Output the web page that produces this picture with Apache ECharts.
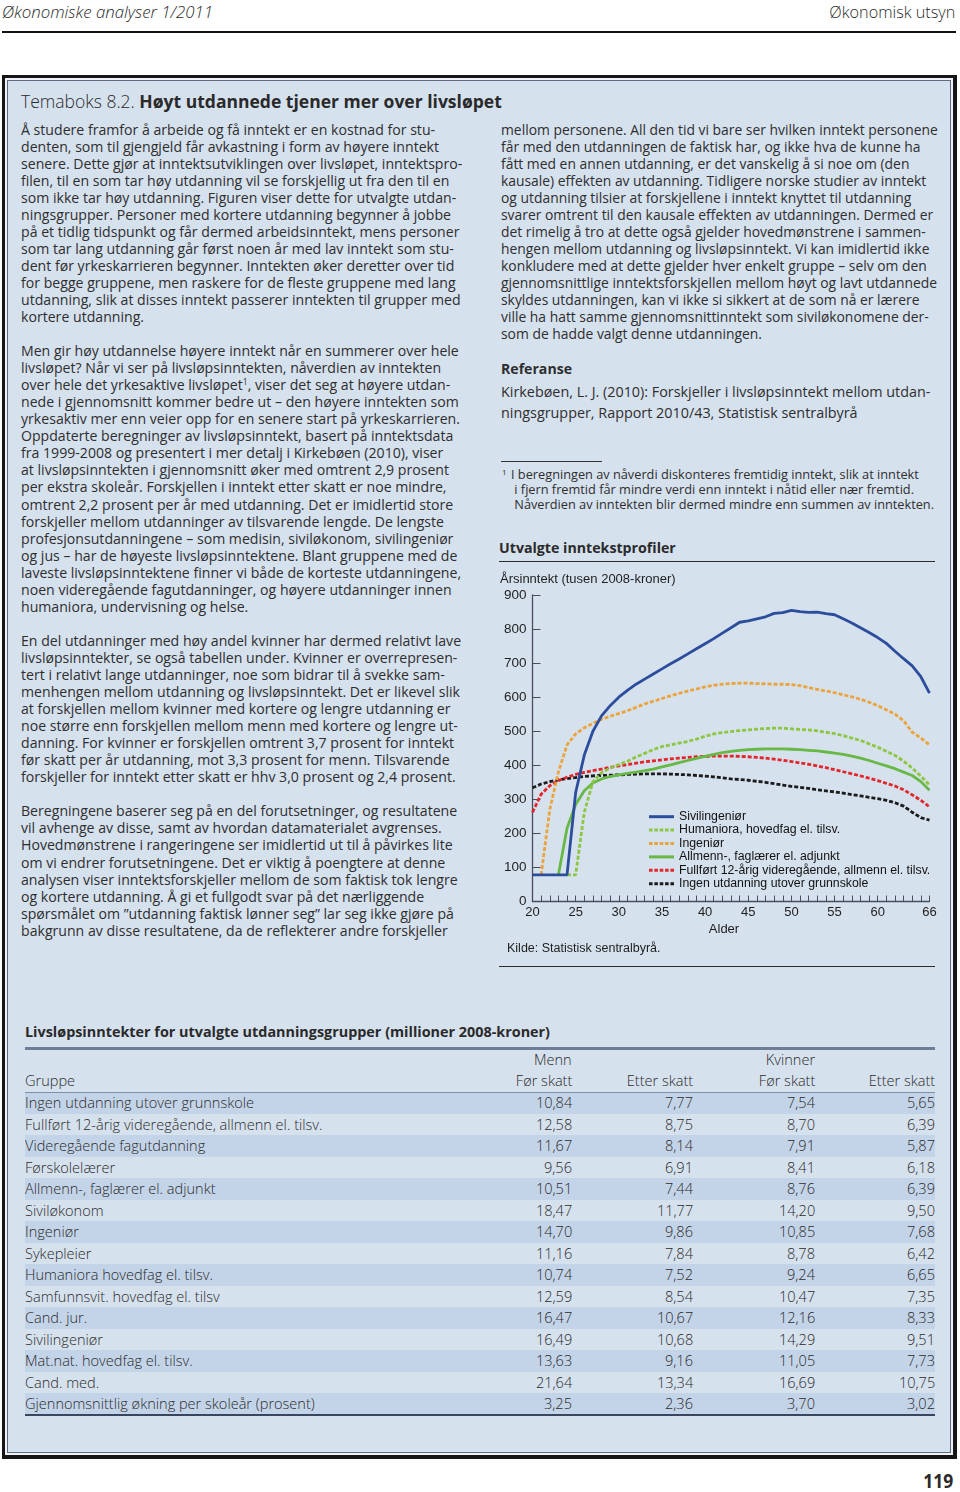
<!DOCTYPE html>
<html><head><meta charset="utf-8">
<script src="https://cdn.jsdelivr.net/npm/echarts@6/dist/echarts.min.js"></script>
<style>
html,body{margin:0;padding:0;background:#fff;}
body{width:960px;height:1492px;position:relative;overflow:hidden;font-family:'Open Sans','Noto Sans',sans-serif;color:#2a2a2a;}
.abs{position:absolute;white-space:nowrap;}
#box{position:absolute;left:2px;top:75px;width:948px;height:1377px;background:#d6e1ee;border:3px solid #151515;border-right-width:4px;border-bottom-width:4px;box-shadow:inset 0 0 0 2px #eef2f8, inset 0 0 0 3px #5d6a80;}
.blk{position:absolute;white-space:nowrap;font-size:13px;line-height:17.05px;}
.body{color:#2e2e2e;}
.rule{position:absolute;height:1px;background:#2b2b2b;}
.tc{position:absolute;white-space:nowrap;line-height:21.5px;font-size:14.5px;font-weight:300;}
.stripe{position:absolute;left:25px;width:910px;height:21.5px;background:#c4d4e8;}
sup{font-size:0.6em;line-height:0;vertical-align:0.6em;}
</style></head>
<body>
<div class="abs" id="hl" style="left:2px;top:2px;line-height:20px;font-size:16px;font-style:italic;font-weight:300;transform-origin:left center;">Økonomiske analyser 1/2011</div>
<div class="abs" id="hr" style="right:5px;top:2px;line-height:20px;font-size:16px;font-weight:300;transform-origin:right center;">Økonomisk utsyn</div>
<div class="abs" style="left:2px;top:31px;width:954px;height:2px;background:#111;"></div>

<div id="box"></div>

<div class="abs" id="ttl" style="left:21px;top:91px;line-height:20px;font-size:16px;"><span style="font-weight:300">Temaboks 8.2. </span><b>Høyt utdannede tjener mer over livsløpet</b></div>

<div class="blk body" id="leftcol" style="left:21px;top:120.5px;"><span id="fitline">Å studere framfor å arbeide og få inntekt er en kostnad for stu-</span><br>denten, som til gjengjeld får avkastning i form av høyere inntekt<br>senere. Dette gjør at inntektsutviklingen over livsløpet, inntektspro-<br>filen, til en som tar høy utdanning vil se forskjellig ut fra den til en<br>som ikke tar høy utdanning. Figuren viser dette for utvalgte utdan-<br>ningsgrupper. Personer med kortere utdanning begynner å jobbe<br>på et tidlig tidspunkt og får dermed arbeidsinntekt, mens personer<br>som tar lang utdanning går først noen år med lav inntekt som stu-<br>dent før yrkeskarrieren begynner. Inntekten øker deretter over tid<br>for begge gruppene, men raskere for de fleste gruppene med lang<br>utdanning, slik at disses inntekt passerer inntekten til grupper med<br>kortere utdanning.<br><br>Men gir høy utdannelse høyere inntekt når en summerer over hele<br>livsløpet? Når vi ser på livsløpsinntekten, nåverdien av inntekten<br>over hele det yrkesaktive livsløpet<sup>1</sup>, viser det seg at høyere utdan-<br>nede i gjennomsnitt kommer bedre ut – den høyere inntekten som<br>yrkesaktiv mer enn veier opp for en senere start på yrkeskarrieren.<br>Oppdaterte beregninger av livsløpsinntekt, basert på inntektsdata<br>fra 1999-2008 og presentert i mer detalj i Kirkebøen (2010), viser<br>at livsløpsinntekten i gjennomsnitt øker med omtrent 2,9 prosent<br>per ekstra skoleår. Forskjellen i inntekt etter skatt er noe mindre,<br>omtrent 2,2 prosent per år med utdanning. Det er imidlertid store<br>forskjeller mellom utdanninger av tilsvarende lengde. De lengste<br>profesjonsutdanningene – som medisin, siviløkonom, sivilingeniør<br>og jus – har de høyeste livsløpsinntektene. Blant gruppene med de<br>laveste livsløpsinntektene finner vi både de korteste utdanningene,<br>noen videregående fagutdanninger, og høyere utdanninger innen<br>humaniora, undervisning og helse.<br><br>En del utdanninger med høy andel kvinner har dermed relativt lave<br>livsløpsinntekter, se også tabellen under. Kvinner er overrepresen-<br>tert i relativt lange utdanninger, noe som bidrar til å svekke sam-<br>menhengen mellom utdanning og livsløpsinntekt. Det er likevel slik<br>at forskjellen mellom kvinner med kortere og lengre utdanning er<br>noe større enn forskjellen mellom menn med kortere og lengre ut-<br>danning. For kvinner er forskjellen omtrent 3,7 prosent for inntekt<br>før skatt per år utdanning, mot 3,3 prosent for menn. Tilsvarende<br>forskjeller for inntekt etter skatt er hhv 3,0 prosent og 2,4 prosent.<br><br>Beregningene baserer seg på en del forutsetninger, og resultatene<br>vil avhenge av disse, samt av hvordan datamaterialet avgrenses.<br>Hovedmønstrene i rangeringene ser imidlertid ut til å påvirkes lite<br>om vi endrer forutsetningene. Det er viktig å poengtere at denne<br>analysen viser inntektsforskjeller mellom de som faktisk tok lengre<br>og kortere utdanning. Å gi et fullgodt svar på det nærliggende<br>spørsmålet om ”utdanning faktisk lønner seg” lar seg ikke gjøre på<br>bakgrunn av disse resultatene, da de reflekterer andre forskjeller</div>

<div class="blk body" id="rightcol" style="left:501px;top:120.5px;"><span id="rline">mellom personene. All den tid vi bare ser hvilken inntekt personene</span><br>får med den utdanningen de faktisk har, og ikke hva de kunne ha<br>fått med en annen utdanning, er det vanskelig å si noe om (den<br>kausale) effekten av utdanning. Tidligere norske studier av inntekt<br>og utdanning tilsier at forskjellene i inntekt knyttet til utdanning<br>svarer omtrent til den kausale effekten av utdanningen. Dermed er<br>det rimelig å tro at dette også gjelder hovedmønstrene i sammen-<br>hengen mellom utdanning og livsløpsinntekt. Vi kan imidlertid ikke<br>konkludere med at dette gjelder hver enkelt gruppe – selv om den<br>gjennomsnittlige inntektsforskjellen mellom høyt og lavt utdannede<br>skyldes utdanningen, kan vi ikke si sikkert at de som nå er lærere<br>ville ha hatt samme gjennomsnittinntekt som siviløkonomene der-<br>som de hadde valgt denne utdanningen.</div>

<div class="blk body" id="refhead" style="left:501px;top:359.5px;font-weight:bold;">Referanse</div>
<div class="blk body" id="ref" style="left:501px;top:381px;line-height:21px;"><span id="refline">Kirkebøen, L. J. (2010): Forskjeller i livsløpsinntekt mellom utdan-</span><br>ningsgrupper, Rapport 2010/43, Statistisk sentralbyrå</div>
<div class="abs" style="left:501px;top:461px;width:101px;height:1px;background:#333;"></div>
<div class="blk body" id="foot" style="left:511px;top:466.6px;line-height:15.3px;"><span style="position:absolute;left:-9px;top:-3px;font-size:8px;">1</span>I beregningen av nåverdi diskonteres fremtidig inntekt, slik at inntekt<br>&nbsp;i fjern fremtid får mindre verdi enn inntekt i nåtid eller nær fremtid.<br>&nbsp;<span id="footline">Nåverdien av inntekten blir dermed mindre enn summen av inntekten.</span></div>

<div class="abs" id="ctitle" style="left:499px;top:539px;line-height:18px;font-size:14px;font-weight:bold;">Utvalgte inntekstprofiler</div>
<div class="rule" style="left:499px;top:561px;width:436px;"></div>
<div id="chart" style="position:absolute;left:495px;top:565px;width:445px;height:400px;"></div>
<div class="rule" style="left:499px;top:966px;width:436px;"></div>

<div id="tbl"></div>
<div class="abs" id="pnum" style="right:7px;top:1472px;line-height:18px;font-size:20px;font-weight:bold;transform-origin:right center;">119</div>

<script>
// ---------- chart data ----------
const ages = [20,21,22,23,24,25,26,27,28,29,30,31,32,33,34,35,36,37,38,39,40,41,42,43,44,45,46,47,48,49,50,51,52,53,54,55,56,57,58,59,60,61,62,63,64,65,66];
const xTickLabels = [20,25,30,35,40,45,50,55,60,66];
const sivilingenior = [78,78,78,78,78,320,430,500,545,575,600,620,638,653,668,683,698,712,727,742,757,772,788,804,820,824,830,836,846,848,855,851,849,850,845,842,830,818,804,790,775,758,735,713,692,660,612];
const humaniora = [null,null,null,null,78,78,262,352,378,392,402,412,424,435,446,455,460,465,470,477,485,492,496,499,502,504,506,508,509,509,507,505,504,501,497,493,487,480,473,463,453,441,429,412,392,368,342];
const ingenior = [null,78,270,380,460,492,510,523,535,544,552,560,570,580,588,596,604,611,618,624,630,635,638,640,641,641,640,639,638,638,637,634,628,623,618,613,607,601,594,585,575,563,550,531,497,480,460];
const allmenn = [null,null,null,78,215,285,325,348,360,367,372,376,380,384,389,395,401,408,414,420,426,432,437,441,444,446,447,448,448,448,447,446,444,442,439,436,432,427,421,414,406,398,390,380,370,352,327];
const fullfort = [262,315,340,355,365,373,379,384,389,394,398,402,406,410,413,416,419,421,423,425,426,427,427,427,426,425,423,421,418,415,411,407,403,398,393,387,381,375,369,362,355,347,339,328,313,297,278];
const ingen = [334,345,352,357,361,364,367,369,370,371,372,373,374,375,375,375,374,373,372,370,368,366,363,360,358,356,353,350,346,342,338,335,332,328,325,322,318,314,310,306,302,297,290,280,262,246,239];
const seriesNames = ['Sivilingeniør','Humaniora, hovedfag el. tilsv.','Ingeniør','Allmenn-, faglærer el. adjunkt','Fullført 12-årig videregående, allmenn el. tilsv.','Ingen utdanning utover grunnskole'];

// ---------- table data ----------
const groups = ['Ingen utdanning utover grunnskole','Fullført 12-årig videregående, allmenn el. tilsv.','Videregående fagutdanning','Førskolelærer','Allmenn-, faglærer el. adjunkt','Siviløkonom','Ingeniør','Sykepleier','Humaniora hovedfag el. tilsv.','Samfunnsvit. hovedfag el. tilsv','Cand. jur.','Sivilingeniør','Mat.nat. hovedfag el. tilsv.','Cand. med.','Gjennomsnittlig økning per skoleår (prosent)'];
const mennFor = ['10,84','12,58','11,67','9,56','10,51','18,47','14,70','11,16','10,74','12,59','16,47','16,49','13,63','21,64','3,25'];
const mennEtter = ['7,77','8,75','8,14','6,91','7,44','11,77','9,86','7,84','7,52','8,54','10,67','10,68','9,16','13,34','2,36'];
const kvinnerFor = ['7,54','8,70','7,91','8,41','8,76','14,20','10,85','8,78','9,24','10,47','12,16','14,29','11,05','16,69','3,70'];
const kvinnerEtter = ['5,65','6,39','5,87','6,18','6,39','9,50','7,68','6,42','6,65','7,35','8,33','9,51','7,73','10,75','3,02'];
const tableTitle = 'Livsløpsinntekter for utvalgte utdanningsgrupper (millioner 2008-kroner)';

// ---------- fitting helpers ----------
function fitSize(el, target){ const w = el.getBoundingClientRect().width; const fs = parseFloat(getComputedStyle(el).fontSize); return fs*target/w; }
function fitScale(el, target){ const w = el.getBoundingClientRect().width; el.style.transform = 'scaleX('+(target/w)+')'; }

const bodyFs = fitSize(document.getElementById('fitline'), 414.5);
document.getElementById('leftcol').style.fontSize = bodyFs+'px';
document.getElementById('refhead').style.fontSize = bodyFs+'px';
const rFs = fitSize(document.getElementById('rline'), 437);
document.getElementById('rightcol').style.fontSize = rFs+'px';
const refFs = fitSize(document.getElementById('refline'), 430);
document.getElementById('ref').style.fontSize = refFs+'px';
const footFs = fitSize(document.getElementById('footline'), 420);
document.getElementById('foot').style.fontSize = footFs+'px';
const ttl = document.getElementById('ttl'); ttl.style.fontSize = fitSize(ttl, 481)+'px';
const ct = document.getElementById('ctitle'); ct.style.fontSize = fitSize(ct, 177)+'px';
fitScale(document.getElementById('hl'), 211);
fitScale(document.getElementById('hr'), 126);
fitScale(document.getElementById('pnum'), 30);

// ---------- table ----------
const T = document.getElementById('tbl');
const colRight = [572, 693, 815, 935];
function cell(text, x, yc, align, bold){
  const d = document.createElement('div'); d.className='tc'; d.textContent=text;
  d.style.top = (yc-10.75)+'px';
  if(bold) d.style.fontWeight='bold';
  if(align==='l'){ d.style.left=x+'px'; d.style.transformOrigin='left center'; }
  else { d.style.right=(960-x)+'px'; d.style.transformOrigin='right center'; }
  T.appendChild(d); return d;
}
function hrule(y,h,c){ const d=document.createElement('div'); d.className='abs'; d.style.cssText+='left:25px;width:910px;top:'+y+'px;height:'+h+'px;background:'+c; T.appendChild(d); }
groups.forEach((g,i)=>{ if(i%2===0){ const s=document.createElement('div'); s.className='stripe'; s.style.top=(1103+i*21.5-10.75)+'px'; T.appendChild(s);} });
const cells = [];
const tt = cell(tableTitle, 25, 1032, 'l', true);
hrule(1047,2.5,'#6d7d98');
cells.push(cell('Menn', colRight[0], 1060, 'r'));
cells.push(cell('Kvinner', colRight[2], 1060, 'r'));
cells.push(cell('Gruppe', 25, 1081, 'l'));
['Før skatt','Etter skatt','Før skatt','Etter skatt'].forEach((t,j)=>cells.push(cell(t, colRight[j], 1081, 'r')));
hrule(1091.5,1,'#8090aa');
const firstRow = cell(groups[0], 25, 1103, 'l');
cells.push(firstRow);
groups.forEach((g,i)=>{
  const y = 1103+i*21.5;
  if(i>0) cells.push(cell(g, 25, y, 'l'));
  cells.push(cell(mennFor[i], colRight[0], y, 'r'));
  cells.push(cell(mennEtter[i], colRight[1], y, 'r'));
  cells.push(cell(kvinnerFor[i], colRight[2], y, 'r'));
  cells.push(cell(kvinnerEtter[i], colRight[3], y, 'r'));
});
hrule(1414,2,'#3a4660');
const kx = 229/firstRow.getBoundingClientRect().width;
cells.forEach(c=>c.style.transform='scaleX('+kx+')');
const ktt = 525/tt.getBoundingClientRect().width; tt.style.transform='scaleX('+ktt+')';

// ---------- chart ----------
function pairs(vals){ return ages.map((a,i)=>[a, vals[i]]); }
const FONT = 'Liberation Sans, Arial, sans-serif';
const axisColor = '#4a4d5c';
const dash = [4,2];
const solidIcon = 'path://M0,0h25v3h-25z';
const dashIcon = 'path://M0,0h3.6v3h-3.6z M5.4,0h3.6v3h-3.6z M10.8,0h3.6v3h-3.6z M16.2,0h3.6v3h-3.6z M21.6,0h3.6v3h-3.6z';
const colors = ['#2c4d9c','#8dc641','#eba43c','#68b846','#e3262b','#1c1c1c'];
const isDashed = [false,true,true,false,true,true];
const dataSets = [sivilingenior, humaniora, ingenior, allmenn, fullfort, ingen];
const series = seriesNames.map((n,i)=>({
  name:n, type:'line', data:pairs(dataSets[i]), symbol:'none', z:10-i, color:colors[i],
  lineStyle:{color:colors[i], width:2.8, type: isDashed[i]?dash:'solid'}
})).reverse();
const chart = echarts.init(document.getElementById('chart'), null, {renderer:'canvas'});
chart.setOption({
  animation:false,
  backgroundColor:'transparent',
  textStyle:{fontFamily:FONT},
  title:{text:'Årsinntekt (tusen 2008-kroner)', left:5, top:8, padding:0, textStyle:{fontFamily:FONT,fontSize:13,fontWeight:'normal',color:'#1e1e1e'}},
  grid:{left:37.5, right:10.5, top:30, bottom:63.5, containLabel:false},
  xAxis:{type:'value', min:20, max:66, interval:1,
    name:'Alder', nameLocation:'middle', nameGap:17,
    nameTextStyle:{fontFamily:FONT,fontSize:13,color:'#1e1e1e',padding:[0,14,0,0], verticalAlign:'top'},
    axisLine:{show:true,onZero:false,lineStyle:{color:axisColor,width:1.3}},
    axisTick:{show:true,inside:true,length:6,lineStyle:{color:axisColor,width:1}},
    axisLabel:{fontFamily:FONT,fontSize:13,color:'#1e1e1e',margin:4,showMinLabel:true,showMaxLabel:true,
      formatter:v=> xTickLabels.indexOf(v)>=0 ? String(v) : ''},
    splitLine:{show:false}},
  yAxis:{type:'value', min:0, max:900, interval:100,
    axisLine:{show:true,lineStyle:{color:axisColor,width:1.3}},
    axisTick:{show:true,inside:true,length:8,lineStyle:{color:axisColor,width:1}},
    axisLabel:{fontFamily:FONT,fontSize:13.5,color:'#1e1e1e',margin:6},
    splitLine:{show:false}},
  legend:{orient:'vertical', left:154, top:245, padding:0, itemGap:0, itemWidth:25, itemHeight:3,
    textStyle:{fontFamily:FONT,fontSize:12.3,color:'#111',lineHeight:13.4, height:13.4},
    data: seriesNames.map((n,i)=>({name:n, icon: isDashed[i]?dashIcon:solidIcon, itemStyle:{color:colors[i]}}))},
  graphic:[{type:'text', left:12, top:377.5, style:{text:'Kilde: Statistisk sentralbyrå.', font:'12.5px '+FONT, fill:'#1e1e1e'}}],
  series: series
});
</script>
</body></html>
